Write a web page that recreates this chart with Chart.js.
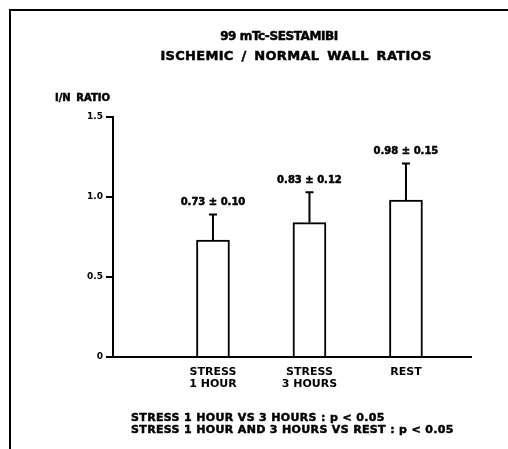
<!DOCTYPE html>
<html>
<head>
<meta charset="utf-8">
<script src="https://cdn.jsdelivr.net/npm/chart.js@4.4.0/dist/chart.umd.min.js"></script>
<style>
  html, body { margin: 0; padding: 0; background: #fff; }
  #wrap { width: 508px; height: 449px; position: relative; }
</style>
</head>
<body>
<div id="wrap"><canvas id="c"></canvas></div>
<script>
// data
var categories = [['STRESS', '1 HOUR'], ['STRESS', '3 HOURS'], ['REST']];
var positions = [1, 2, 3];
var ratios = [0.73, 0.84, 0.98];
var errorTops = [0.89, 1.03, 1.21];
var valueLabels = ['0.73 \u00b1 0.10', '0.83 \u00b1 0.12', '0.98 \u00b1 0.15'];
var yTicks = [0, 0.5, 1.0, 1.5];
var titleLines = ['99 mTc-SESTAMIBI', 'ISCHEMIC / NORMAL WALL RATIOS'];
var footLines = ['STRESS 1 HOUR VS 3 HOURS : p < 0.05', 'STRESS 1 HOUR AND 3 HOURS VS REST : p < 0.05'];

var FONT = '"DejaVu Sans", Arial, sans-serif';

// heavy text, a thin stroke makes it look like the scanned black type
function txt(ctx, s, x, y, font, ls, ws) {
  ctx.font = font;
  ctx.letterSpacing = (ls || 0) + 'px';
  ctx.wordSpacing = (ws || 0) + 'px';
  ctx.lineWidth = 0.5;
  ctx.fillText(s, x, y);
  ctx.strokeText(s, x, y);
  ctx.letterSpacing = '0px';
  ctx.wordSpacing = '0px';
}

var extras = {
  id: 'extras',
  afterDatasetsDraw: function(chart) {
    var ctx = chart.ctx;
    var x = chart.scales.x, y = chart.scales.y;
    ctx.save();
    ctx.strokeStyle = '#000';
    ctx.fillStyle = '#000';

    // frame (top and left)
    ctx.lineWidth = 2;
    ctx.beginPath();
    ctx.moveTo(10, 449);
    ctx.lineTo(10, 10);
    ctx.lineTo(508, 10);
    ctx.stroke();

    // error whiskers + value labels
    for (var i = 0; i < positions.length; i++) {
      var cx = x.getPixelForValue(positions[i]);
      var y0 = y.getPixelForValue(ratios[i]);
      var y1 = y.getPixelForValue(errorTops[i]);
      ctx.lineWidth = 2;
      ctx.beginPath();
      ctx.moveTo(cx, y0);
      ctx.lineTo(cx, y1);
      ctx.moveTo(cx - 4, y1);
      ctx.lineTo(cx + 4, y1);
      ctx.stroke();
      ctx.textAlign = 'center';
      ctx.textBaseline = 'middle';
      txt(ctx, valueLabels[i], cx, y1 - 12, 'bold 10px ' + FONT, 0);
    }

    // titles
    ctx.textAlign = 'center';
    ctx.textBaseline = 'middle';
    txt(ctx, titleLines[0], 279, 37, 'bold 12px ' + FONT, -0.4);
    txt(ctx, titleLines[1], 296, 57, 'bold 13px ' + FONT, 0.3, 3);

    // y axis title
    ctx.textAlign = 'left';
    txt(ctx, 'I/N RATIO', 55, 98, 'bold 10px ' + FONT, 0, 2);

    // footnotes
    txt(ctx, footLines[0], 131, 418, 'bold 11px ' + FONT, 0.35);
    txt(ctx, footLines[1], 131, 430, 'bold 11px ' + FONT, 0.35);
    ctx.restore();
  }
};

new Chart(document.getElementById('c'), {
  type: 'bar',
  data: {
    datasets: [{
      data: positions.map(function(p, i) { return { x: p, y: ratios[i] }; }),
      backgroundColor: '#fff',
      borderColor: '#000',
      borderWidth: 2,
      barThickness: 33
    }]
  },
  options: {
    responsive: true,
    maintainAspectRatio: false,
    animation: false,
    layout: { padding: { left: 73, right: 37, top: 117, bottom: 52 } },
    plugins: { legend: { display: false }, tooltip: { enabled: false } },
    scales: {
      x: {
        type: 'linear',
        offset: false,
        bounds: 'data',
        min: -0.036,
        max: 3.674,
        afterBuildTicks: function(scale) {
          scale.ticks = positions.map(function(v) { return { value: v }; });
        },
        afterFit: function(scale) { scale.height = 40; },
        grid: { display: false },
        border: { display: true, color: '#000', width: 2 },
        ticks: {
          autoSkip: false,
          maxRotation: 0,
          padding: 1,
          color: '#000',
          font: { family: FONT, size: 11, weight: 'bold', lineHeight: 1.1 },
          callback: function(v, i) { return categories[i]; }
        }
      },
      y: {
        min: 0,
        max: 1.5,
        afterBuildTicks: function(scale) {
          scale.ticks = yTicks.map(function(v) { return { value: v }; });
        },
        afterFit: function(scale) { scale.width = 40; },
        grid: { drawOnChartArea: false, color: '#000', lineWidth: 2, tickLength: 7 },
        border: { display: true, color: '#000', width: 2 },
        ticks: {
          padding: 3,
          color: '#000',
          font: { family: FONT, size: 9, weight: 'bold' },
          callback: function(v) { return v === 0 ? '0' : v.toFixed(1); }
        }
      }
    }
  },
  plugins: [extras]
});
</script>
</body>
</html>
